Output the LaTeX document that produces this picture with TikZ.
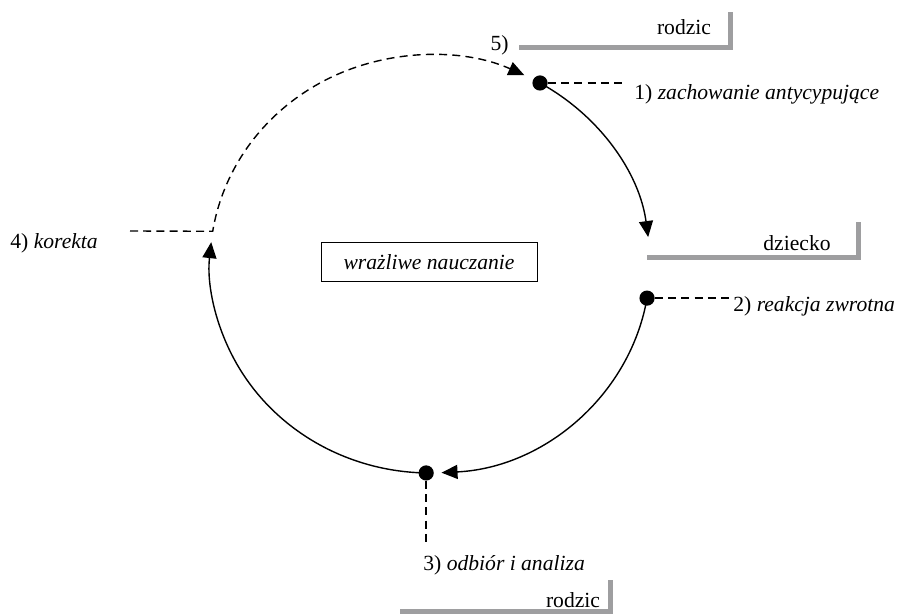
\documentclass[tikz,border=0pt]{standalone}
\usepackage{fontspec}
\setmainfont{Liberation Serif}
\usetikzlibrary{arrows.meta,calc}
\definecolor{bargray}{RGB}{158,158,160}

\begin{document}
\begin{tikzpicture}
    [x=0.5pt, y=0.5pt,
     font=\fontsize{10.8}{13}\selectfont,
     dot/.style={circle, fill, inner sep=0pt, minimum size=7.6pt},
     label text/.style={inner sep=0pt},
     flow/.style={line width=0.7pt, -{Triangle[length=8pt,width=7pt]}},
     leader/.style={line width=0.7pt, dash pattern=on 4pt off 2.6pt},
     shelf/.style={line width=2.5pt, draw=bargray}]
    \useasboundingbox (0, 0) rectangle (899, 614);
    \coordinate (c) at (430, 350);
    % the three points of the cycle
    \node[dot] (d1) at ($(c) + (60:110pt and 104.5pt)$) {};
    \node[dot] (d2) at ($(c) + (-9.4:110pt and 104.5pt)$) {};
    \node[dot] (d3) at ($(c) + (-91:110pt and 104.5pt)$) {};
    \coordinate (k1) at ($(c) + (171:110pt and 104.5pt)$);
    \node[draw, line width=0.5pt, minimum width=108pt, minimum height=19.5pt]
      (box) at (429, 352) {\textit{wrażliwe nauczanie}};
    % labels
    \node[label text, anchor=west] (l1) at (634, 520)
      {1) \textit{zachowanie antycypujące}};
    \node[label text, anchor=west] (l2) at (733, 308)
      {2) \textit{reakcja zwrotna}};
    \node[label text, anchor=west] (l3) at (423, 49)
      {3) \textit{odbiór i analiza}};
    \node[label text, anchor=west] (l4) at (10, 371) {4) \textit{korekta}};
    \node[label text, anchor=east] (l5) at (509, 569) {5)};
    \node[label text] (par1) at (684, 587) {rodzic};
    \node[label text] (kid) at (797, 371) {dziecko};
    \node[label text] (par2) at (573, 14) {rodzic};
    \coordinate (e1) at (623, 531);
    \coordinate (e2) at (730, 316);
    \coordinate (e3) at (427, 71);
    \coordinate (k0) at (130, 383);
    % shelves
    \draw[shelf] (519, 566) -- (730, 566) -- (730, 602);
    \draw[shelf] (647, 356) -- (858, 356) -- (858, 392);
    \draw[shelf] (400, 2) -- (610, 2) -- (610, 34);
    % cycle
    \draw[flow] (d1.center) arc [start angle=60, end angle=7.4,
      x radius=110pt, y radius=104.5pt];
    \draw[flow] (d2.center) arc [start angle=-9.4, end angle=-87,
      x radius=110pt, y radius=104.5pt];
    \draw[flow] (d3.center) arc [start angle=-91, end angle=-186,
      x radius=110pt, y radius=104.5pt];
    \draw[leader, -{Triangle[length=8pt,width=7pt]}] (k0) -- (k1)
      arc [start angle=171, end angle=64.6, x radius=110pt, y radius=104.5pt];
    \draw[leader] (d1.east) -- (d1.east -| e1);
    \draw[leader] (d2.east) -- (d2.east -| e2);
    \draw[leader] (d3.south) -- (d3.south |- e3);
  \end{tikzpicture}
\end{document}
